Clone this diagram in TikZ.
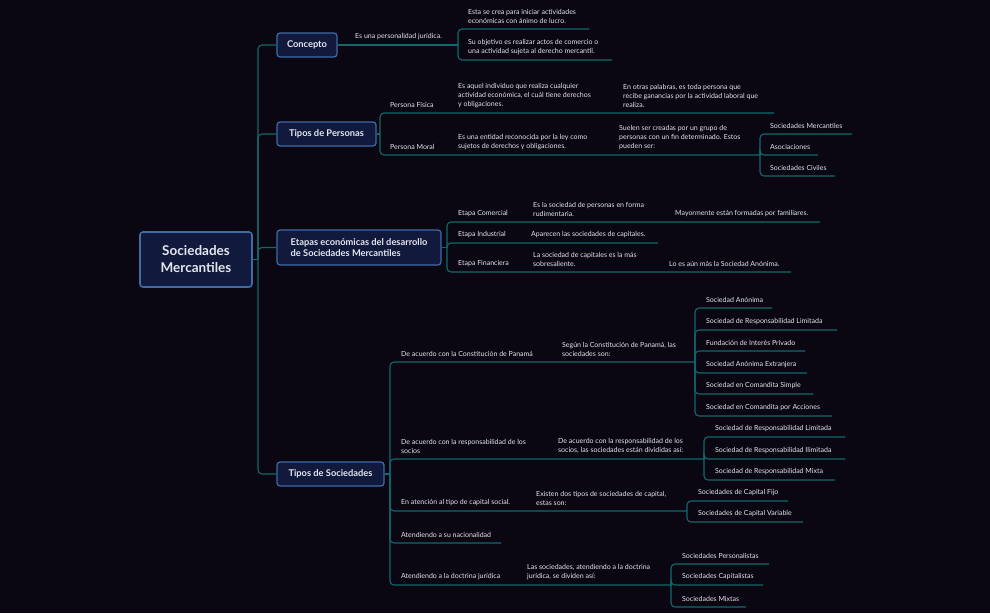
\documentclass[tikz,border=0pt]{standalone}
\usepackage{fontspec}
\setmainfont{Lato}
\begin{document}
\begin{tikzpicture}[x=1pt,y=-1pt]
\definecolor{bg}{HTML}{0A0612}
\definecolor{lc}{HTML}{0F6A6C}
\definecolor{bf}{HTML}{111A3D}
\definecolor{bd}{HTML}{3F6BA6}
\definecolor{tc}{HTML}{E4E6EE}
\tikzset{
 ln/.style={draw=lc, line width=1.1pt, rounded corners=4pt},
 box/.style={draw=bd, fill=bf, line width=1.2pt, rounded corners=3pt, text=tc, font=\fontsize{9.3}{11}\selectfont, align=left, inner sep=0pt},
 tx/.style={anchor=south west, inner sep=0pt, text=tc, font=\fontsize{7}{9}\selectfont, align=left}}
\fill[bg] (0,0) rectangle (990,613);
\useasboundingbox (0,0) rectangle (990,613);
% main boxes
\node[box, minimum width=112, minimum height=55, font=\fontsize{13.5}{17}\selectfont\bfseries, align=center, line width=1.6pt] (root) at (196,259.5) {Sociedades\\Mercantiles};
\node[box, minimum width=60, minimum height=24] (con) at (307,45) {\bfseries Concepto};
\node[box, minimum width=99, minimum height=24] (tp) at (326.5,134) {\bfseries Tipos de Personas};
\node[box, minimum width=164, minimum height=35] (et) at (359,247.5) {\bfseries Etapas económicas del desarrollo\\\bfseries de Sociedades Mercantiles};
\node[box, minimum width=107, minimum height=24] (ts) at (330.5,474) {\bfseries Tipos de Sociedades};
\coordinate (tr) at (258,259.5);
\draw[ln] (root.east) -- (tr);
\foreach \b in {con,tp,et,ts}{\draw[ln] (tr) |- (\b.west);}
% Concepto
\coordinate (cb) at (458,45);
\draw[ln] (con.east) -- (cb);
\node[tx] (c0) at (355,40) {Es una personalidad jurídica.};
\coordinate (c1e) at (589,29); \coordinate (c2e) at (612,60);
\draw[ln] (cb) |- (c1e); \draw[ln] (cb) |- (c2e);
\node[tx] (c1) at (468,24) {Esta se crea para iniciar actividades\\económicas con ánimo de lucro.};
\node[tx] (c2) at (468,55) {Su objetivo es realizar actos de comercio o\\una actividad sujeta al derecho mercantil.};
% Tipos de Personas
\coordinate (pb) at (380,134);
\draw[ln] (tp.east) -- (pb);
\coordinate (pfe) at (774,113); \coordinate (pme) at (760,155);
\draw[ln] (pb) |- (pfe); \draw[ln] (pb) |- (pme);
\node[tx] (pf) at (390,108) {Persona Física};
\node[tx] (pf1) at (458,108) {Es aquel individuo que realiza cualquier\\actividad económica, el cuál tiene derechos\\y obligaciones.};
\node[tx] (pf2) at (623,108) {En otras palabras, es toda persona que\\recibe ganancias por la actividad laboral que\\realiza.};
\node[tx] (pm) at (390,150) {Persona Moral};
\node[tx] (pm1) at (458,150) {Es una entidad reconocida por la ley como\\sujetos de derechos y obligaciones.};
\node[tx] (pm2) at (619,150) {Suelen ser creadas por un grupo de\\personas con un fin determinado. Estos\\pueden ser:};
\coordinate (m1) at (852,134); \coordinate (m2) at (818,155); \coordinate (m3) at (835,176);
\foreach \c in {m1,m2,m3}{\draw[ln] (pme) |- (\c);}
\node[tx] (mt1) at (770,129) {Sociedades Mercantiles};
\node[tx] (mt2) at (770,150) {Asociaciones};
\node[tx] (mt3) at (770,171) {Sociedades Civiles};
% Etapas
\coordinate (eb) at (447,247.5);
\draw[ln] (et.east) -- (eb);
\coordinate (e1) at (820,222); \coordinate (e2) at (658,243); \coordinate (e3) at (791,272);
\foreach \c in {e1,e2,e3}{\draw[ln] (eb) |- (\c);}
\node[tx] (et1) at (458,217) {Etapa Comercial};
\node[tx] (et1a) at (533,217) {Es la sociedad de personas en forma\\rudimentaria.};
\node[tx] (et1b) at (675,217) {Mayormente están formadas por familiares.};
\node[tx] (et2) at (458,238) {Etapa Industrial};
\node[tx] (et2a) at (531,238) {Aparecen las sociedades de capitales.};
\node[tx] (et3) at (458,267) {Etapa Financiera};
\node[tx] (et3a) at (533,267) {La sociedad de capitales es la más\\sobresaliente.};
\node[tx] (et3b) at (669,267) {Lo es aún más la Sociedad Anónima.};
% Tipos de Sociedades
\coordinate (sb) at (390,474);
\draw[ln] (ts.east) -- (sb);
\coordinate (s1) at (695,362); \coordinate (s2) at (704,459); \coordinate (s3) at (687,511);
\coordinate (s4) at (501,543); \coordinate (s5) at (671,585);
\foreach \c in {s1,s2,s3,s4,s5}{\draw[ln] (sb) |- (\c);}
\node[tx] (st1) at (401,357) {De acuerdo con la Constitución de Panamá};
\node[tx] (st1a) at (562,357) {Según la Constitución de Panamá, las\\sociedades son:};
\node[tx] (st2) at (401,454) {De acuerdo con la responsabilidad de los\\socios};
\node[tx] (st2a) at (558,454) {De acuerdo con la responsabilidad de los\\socios, las sociedades están divididas así:};
\node[tx] (st3) at (401,506) {En atención al tipo de capital social.};
\node[tx] (st3a) at (536,506) {Existen dos tipos de sociedades de capital,\\estas son:};
\node[tx] (st4) at (401,538) {Atendiendo a su nacionalidad};
\node[tx] (st5) at (401,580) {Atendiendo a la doctrina jurídica};
\node[tx] (st5a) at (527,580) {Las sociedades, atendiendo a la doctrina\\jurídica, se dividen así:};
% items
\foreach \y/\e/\t [count=\i] in {308/772/Sociedad Anónima, 330/837/Sociedad de Responsabilidad Limitada, 351/805/Fundación de Interés Privado, 373/807/Sociedad Anónima Extranjera, 394/813/Sociedad en Comandita Simple, 416/832/Sociedad en Comandita por Acciones}{
 \coordinate (a\i) at (\e,\y); \draw[ln] (s1) |- (a\i);
 \node[tx] (at\i) at (706,\y-5) {\t};}
\foreach \y/\e/\t [count=\i] in {437/845/Sociedad de Responsabilidad Limitada, 459/845/Sociedad de Responsabilidad Ilimitada, 480/835/Sociedad de Responsabilidad Mixta}{
 \coordinate (b\i) at (\e,\y); \draw[ln] (s2) |- (b\i);
 \node[tx] (bt\i) at (715,\y-5) {\t};}
\foreach \y/\e/\t [count=\i] in {501/788/Sociedades de Capital Fijo, 522/803/Sociedades de Capital Variable}{
 \coordinate (k\i) at (\e,\y); \draw[ln] (s3) |- (k\i);
 \node[tx] (kt\i) at (698,\y-5) {\t};}
\foreach \y/\e/\t [count=\i] in {564/769/Sociedades Personalistas, 585/763/Sociedades Capitalistas, 607/746/Sociedades Mixtas}{
 \coordinate (d\i) at (\e,\y); \draw[ln] (s5) |- (d\i);
 \node[tx] (dt\i) at (682,\y-5) {\t};}
\end{tikzpicture}
\end{document}
